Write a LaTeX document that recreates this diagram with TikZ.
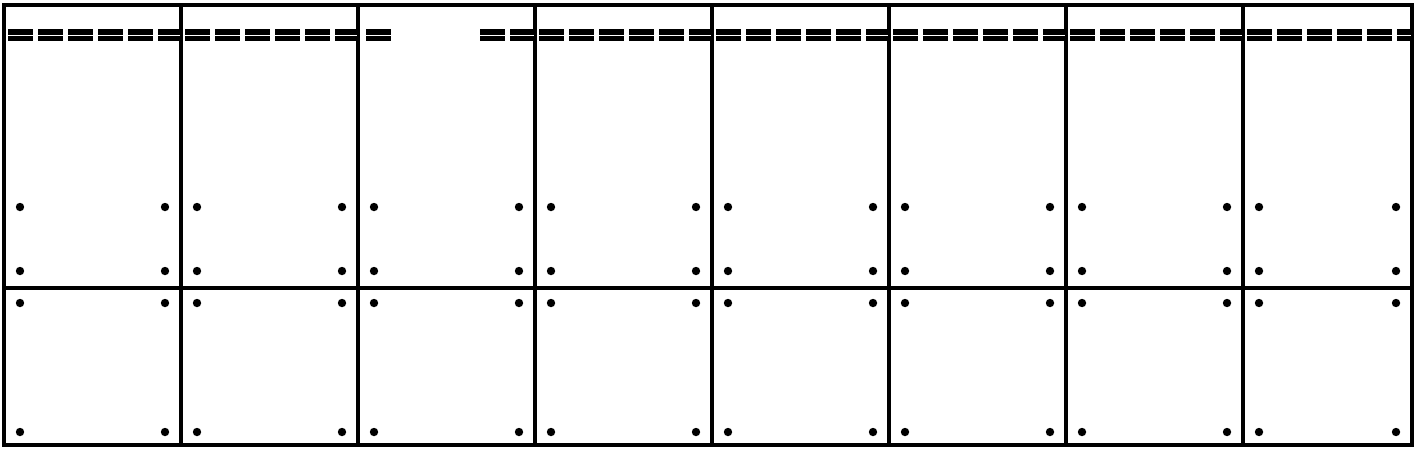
\documentclass[tikz,border=0pt]{standalone}
\begin{document}
\begin{tikzpicture}[x=0.5pt,y=-0.5pt,
  frame/.style={line width=2.4pt,line cap=rect},
  dashrow/.style={line width=2.6pt,double=white,double distance=0.5pt,dash pattern=on 12.5pt off 2.5pt},
  dot/.style={fill=black}]
\useasboundingbox (0,0) rectangle (1418,452);
% outer frame and grid
\draw[frame] (4,5) rectangle (1412,445);
\draw[frame] (4,288) -- (1412,288);
\foreach \x in {181,358,535,712,889,1066,1243}
  \draw[frame] (\x,5) -- (\x,445);
% dash rows
\foreach \l/\r in {4/181,181/358,535/712,712/889,889/1066,1066/1243,1243/1412}
  \draw[dashrow] (\l+4,35) -- (\r-1,35);
\draw[dashrow] (366,35) -- (394,35);
\draw[dashrow] (480,35) -- (534,35);
% dots
\foreach \l/\r in {4/181,181/358,358/535,535/712,712/889,889/1066,1066/1243,1243/1412}{
  \foreach \y in {207,271,303,432}{
    \fill[dot] (\l+16,\y) circle (2.1pt);
    \fill[dot] (\r-16,\y) circle (2.1pt);
  }
}
\end{tikzpicture}
\end{document}
